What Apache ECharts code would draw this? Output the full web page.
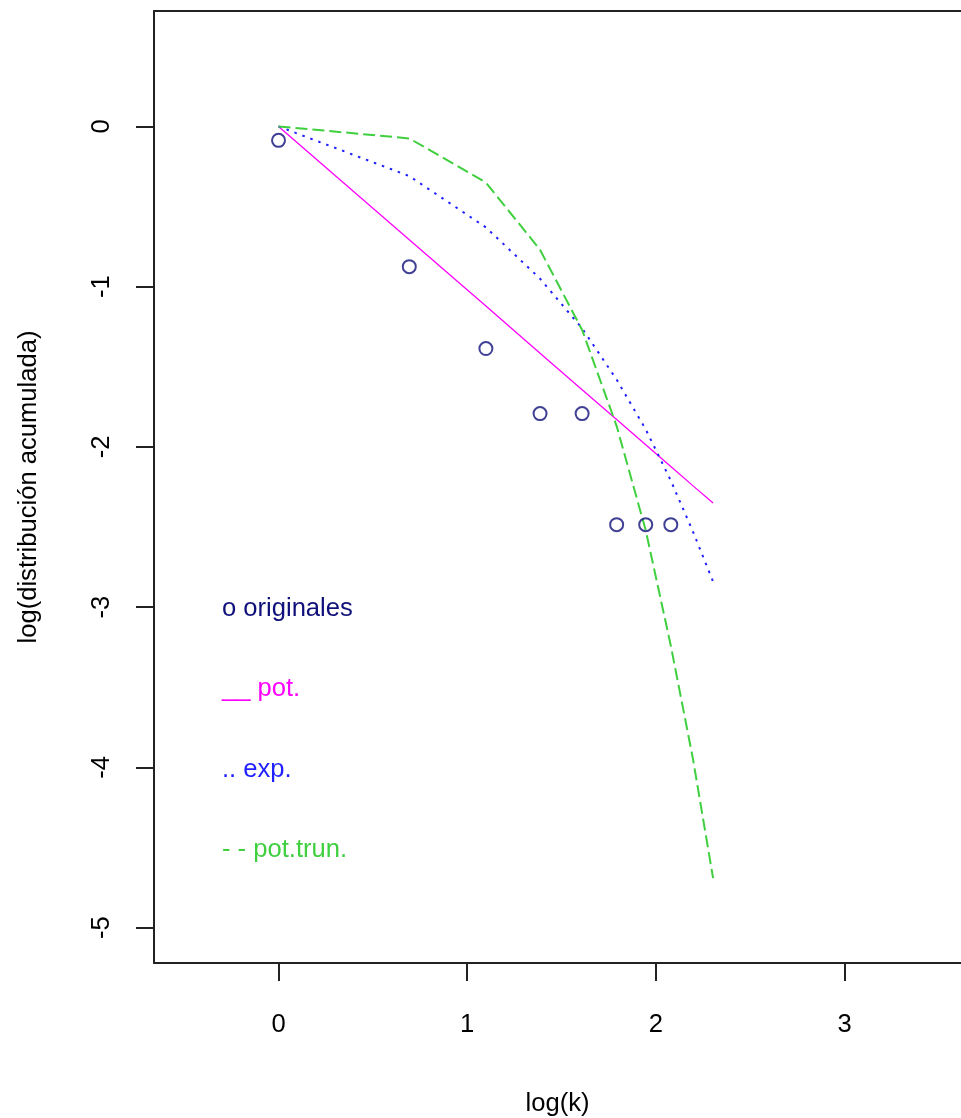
<!DOCTYPE html>
<html><head><meta charset="utf-8">
<script src="https://cdn.jsdelivr.net/npm/echarts@6/dist/echarts.min.js"></script>
<style>html,body{margin:0;padding:0;background:#fff}#c{width:961px;height:1118px}</style>
</head><body><div id="c"></div>
<script>
// x = log(k), k = 1..10
const logK = [0, 0.693, 1.099, 1.386, 1.609, 1.792, 1.946, 2.079, 2.197, 2.303];
const originales = [-0.087, -0.875, -1.386, -1.792, -1.792, -2.485, -2.485, -2.485];
const potFit = [0, -0.707, -1.121, -1.415, -1.643, -1.829, -1.986, -2.122, -2.243, -2.350];
const expFit = [0, -0.31, -0.63, -0.95, -1.26, -1.58, -1.89, -2.21, -2.53, -2.84];
const potTrunFit = [0, -0.075, -0.35, -0.77, -1.27, -1.87, -2.52, -3.24, -3.95, -4.69];
const xTicks = [0, 1, 2, 3];
const yTicks = [-5, -4, -3, -2, -1, 0];
const legendTexts = ['o originales', '__ pot.', '.. exp.', '- - pot.trun.'];
const xTitle = 'log(k)';
const yTitle = 'log(distribución acumulada)';

const FONT = '"Liberation Sans", Arial, sans-serif';
const FS = 25.6;
const C_ORIG = '#10107a', C_POT = '#ff00ff', C_EXP = '#1f1fff', C_TRUN = '#3fcf3f';
const legendColors = [C_ORIG, C_POT, C_EXP, C_TRUN];
const BOX = {color: '#222', width: 2};

const pair = (ys) => ys.map((y, i) => [logK[i], y]);

const chart = echarts.init(document.getElementById('c'), null, {renderer: 'canvas'});
const option = {
  animation: false,
  backgroundColor: '#fff',
  grid: {left: 154, top: 11, right: 0, bottom: 155, show: false, containLabel: false, outerBoundsMode: 'none'},
  xAxis: [{
    type: 'value', min: -0.66, max: 3.617, position: 'bottom',
    name: xTitle, nameLocation: 'middle', nameGap: 128,
    nameTextStyle: {fontFamily: FONT, fontSize: FS, color: '#000'},
    axisLine: {show: true, onZero: false, lineStyle: BOX},
    splitLine: {show: false},
    axisTick: {show: true, inside: false, length: 18, customValues: xTicks, lineStyle: BOX},
    axisLabel: {show: true, customValues: xTicks, margin: 49, fontFamily: FONT, fontSize: FS, color: '#000'}
  }, {
    type: 'value', min: -0.66, max: 3.617, position: 'top',
    axisLine: {show: true, onZero: false, lineStyle: BOX},
    axisTick: {show: false}, axisLabel: {show: false}, splitLine: {show: false}
  }],
  yAxis: {
    type: 'value', min: -5.22, max: 0.72, position: 'left',
    name: yTitle, nameLocation: 'middle', nameGap: 112, nameRotate: 90,
    nameTextStyle: {fontFamily: FONT, fontSize: FS, color: '#000'},
    axisLine: {show: true, onZero: false, lineStyle: BOX},
    splitLine: {show: false},
    axisTick: {show: true, inside: false, length: 18, customValues: yTicks, lineStyle: BOX},
    axisLabel: {show: true, customValues: yTicks, rotate: 90, margin: 39, fontFamily: FONT, fontSize: FS, color: '#000'}
  },
  series: [
    {type: 'line', name: 'pot.', data: pair(potFit), showSymbol: false, symbol: 'none',
     lineStyle: {color: C_POT, width: 1.3, type: 'solid'}, z: 2},
    {type: 'line', name: 'exp.', data: pair(expFit), showSymbol: false, symbol: 'none',
     lineStyle: {color: C_EXP, width: 2, type: [2.5, 6]}, z: 2},
    {type: 'line', name: 'pot.trun.', data: pair(potTrunFit), showSymbol: false, symbol: 'none',
     lineStyle: {color: C_TRUN, width: 2, type: [12, 5]}, z: 2},
    {type: 'scatter', name: 'originales', data: pair(originales), symbol: 'circle', symbolSize: 13,
     itemStyle: {color: 'rgba(0,0,0,0)', borderColor: C_ORIG, borderWidth: 2}, z: 3}
  ]
};
chart.setOption(option);

// Legend-like annotations placed in data coordinates
const legendX = -0.3;
const legendY = [-3, -3.5, -4, -4.5];
const graphics = legendTexts.map((t, i) => {
  const p = chart.convertToPixel({gridIndex: 0}, [legendX, legendY[i]]);
  return {type: 'text', x: p[0], y: p[1] + 2, z: 10,
          style: {text: t, fill: legendColors[i], font: FS + 'px ' + FONT,
                  textAlign: 'left', textVerticalAlign: 'middle'}};
});
chart.setOption({graphic: graphics});
</script>
</body></html>
